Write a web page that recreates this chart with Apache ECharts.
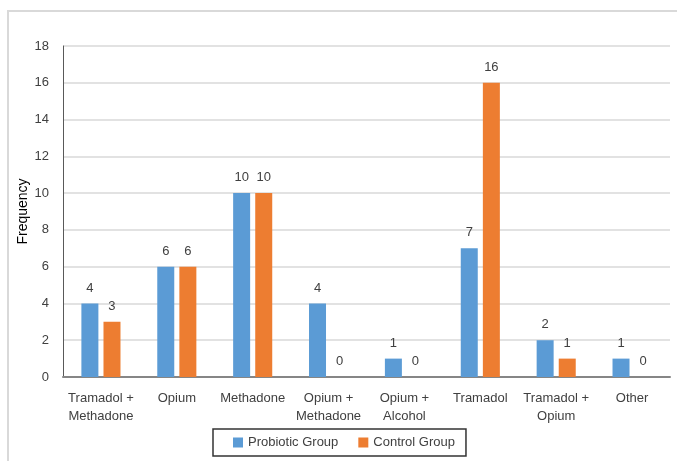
<!DOCTYPE html>
<html>
<head>
<meta charset="utf-8">
<script src="https://cdn.jsdelivr.net/npm/echarts@6/dist/echarts.min.js"></script>
<style>
  html, body { margin: 0; padding: 0; background: #ffffff; }
  #chart { width: 677px; height: 461px; }
</style>
</head>
<body>
<div id="chart"></div>
<script>
// Substance use categories and group counts
const categories = [
  'Tramadol +\nMethadone', 'Opium', 'Methadone', 'Opium +\nMethadone',
  'Opium +\nAlcohol', 'Tramadol', 'Tramadol +\nOpium', 'Other'
];
const probioticGroup = [4, 6, 10, 4, 1, 7, 2, 1];
const controlGroup = [3, 6, 10, 0, 0, 16, 1, 0];
const seriesNames = ['Probiotic Group', 'Control Group'];
const yTicks = { min: 0, max: 18, interval: 2 };

const FONT = '"Liberation Sans", Arial, sans-serif';
const TEXT = '#404040';

const chart = echarts.init(document.getElementById('chart'), null, { renderer: 'canvas' });

const valueLabel = {
  show: true,
  position: 'top',
  distance: 9,
  color: TEXT,
  fontFamily: FONT,
  fontSize: 13
};

chart.setOption({
  animation: false,
  backgroundColor: '#ffffff',
  graphic: [{
    type: 'rect',
    shape: { x: 8, y: 11, width: 700, height: 500 },
    style: { fill: 'none', stroke: '#d9d9d9', lineWidth: 2 },
    silent: true
  }],
  grid: { left: 63, right: 7, top: 46, bottom: 84 },
  legend: {
    data: seriesNames,
    left: 213,
    top: 429,
    icon: 'rect',
    itemWidth: 10,
    itemHeight: 10,
    itemGap: 20,
    padding: [7, 11, 7, 20],
    borderColor: '#333333',
    borderWidth: 1.5,
    textStyle: { color: TEXT, fontFamily: FONT, fontSize: 13 }
  },
  xAxis: {
    type: 'category',
    data: categories,
    axisLine: { lineStyle: { color: '#868686', width: 2 } },
    axisTick: { show: false },
    axisLabel: {
      interval: 0,
      margin: 12,
      color: TEXT,
      fontFamily: FONT,
      fontSize: 13,
      lineHeight: 18
    }
  },
  yAxis: {
    type: 'value',
    min: yTicks.min,
    max: yTicks.max,
    interval: yTicks.interval,
    name: 'Frequency',
    nameLocation: 'middle',
    nameGap: 33,
    nameRotate: 90,
    nameMoveOverlap: false,
    nameTextStyle: { color: '#000000', fontFamily: FONT, fontSize: 14 },
    axisLine: { show: true, lineStyle: { color: '#595959', width: 1 } },
    axisTick: { show: false },
    axisLabel: { color: TEXT, fontFamily: FONT, fontSize: 13, margin: 14 },
    splitLine: { lineStyle: { color: '#d9d9d9', width: 1.5 } }
  },
  series: [
    {
      name: seriesNames[0],
      type: 'bar',
      data: probioticGroup,
      barWidth: 17,
      barGap: '30%',
      itemStyle: { color: '#5B9BD5' },
      label: valueLabel
    },
    {
      name: seriesNames[1],
      type: 'bar',
      data: controlGroup,
      barWidth: 17,
      barGap: '30%',
      itemStyle: { color: '#ED7D31' },
      label: valueLabel
    }
  ]
});
</script>
</body>
</html>
